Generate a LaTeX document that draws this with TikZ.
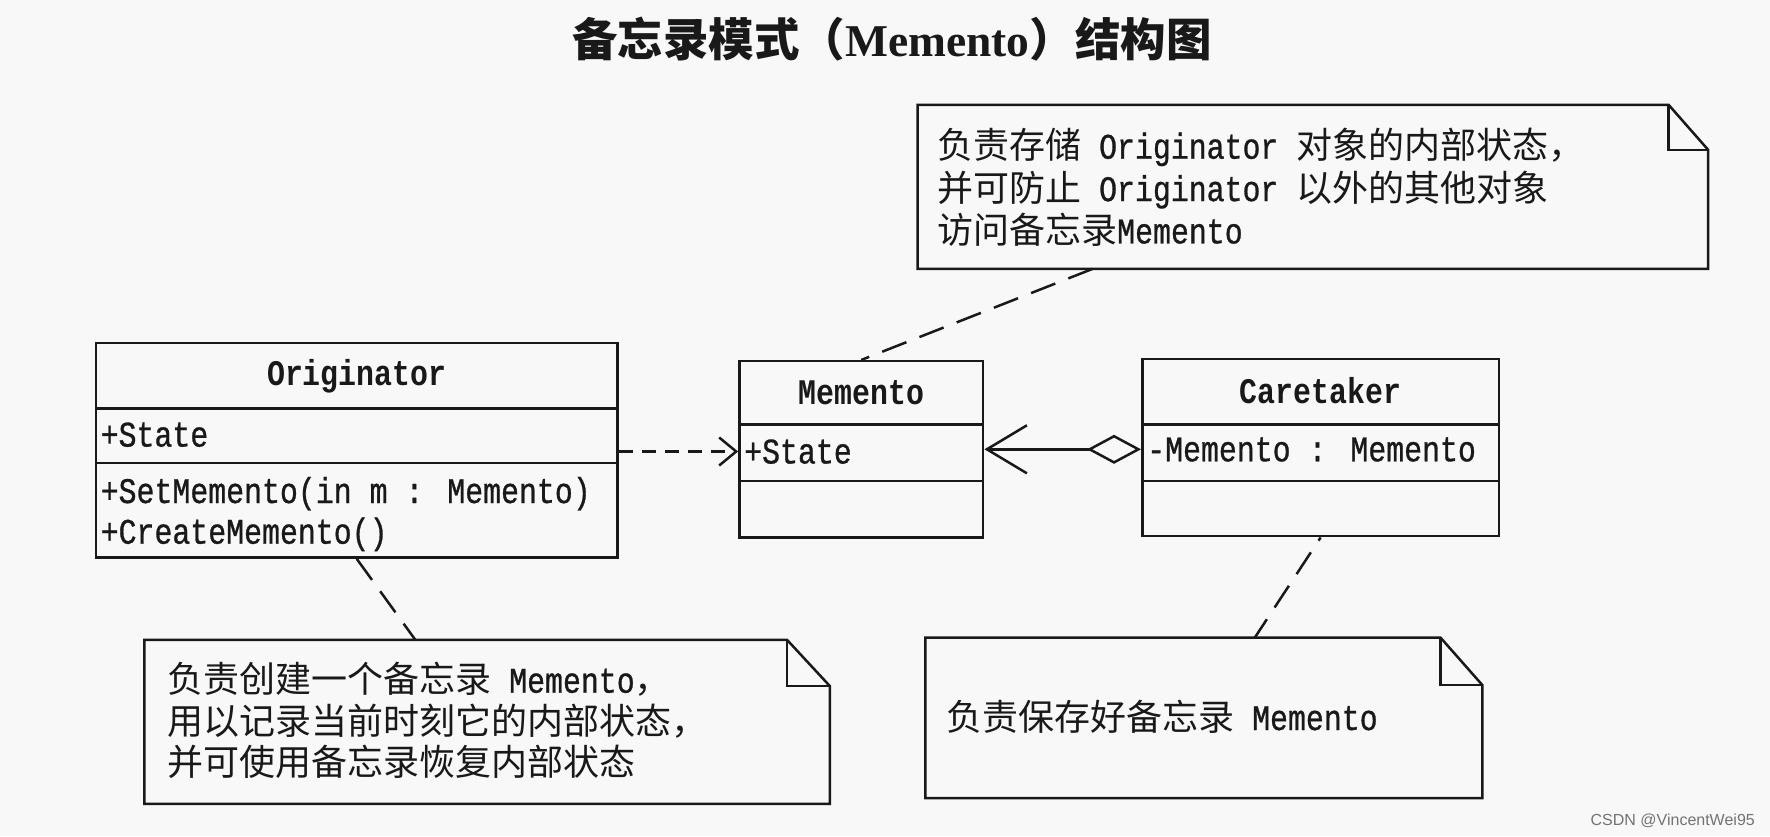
\documentclass[tikz,border=0pt]{standalone}
\usepackage{fontspec}
\setmainfont{Liberation Mono}[FakeStretch=0.83, UprightFeatures={FakeBold=0.8}]
\newfontfamily\cjk{Noto Sans CJK SC}
\newfontfamily\serifttl{Liberation Serif}
\newfontfamily\wmfont{Liberation Sans}
\usetikzlibrary{arrows.meta,calc}
\newcommand\zh[1]{{\cjk #1}}
\definecolor{bgcol}{RGB}{248,248,248}
\definecolor{ink}{RGB}{25,25,25}
\tikzset{
  line/.style={line width=2.5pt, draw=ink},
  cls/.style={draw=ink, line width=2.5pt, rectangle, inner sep=0pt},
  clsname/.style={font=\fontsize{36}{42}\selectfont\bfseries, inner sep=0pt, anchor=center, text=ink},
  member/.style={font=\fontsize{36}{42}\selectfont, anchor=west, inner sep=0pt, text height=30pt, text depth=6pt, text=ink},
  notebody/.style={rectangle, inner sep=0pt, draw=none},
  notelink/.style={line width=2.5pt, draw=ink, dash pattern=on 26pt off 14pt},
  dep/.style={line width=2.5pt, draw=ink, dash pattern=on 14pt off 9pt, -{Straight Barb[length=17pt,width=28pt,line width=2.5pt]}},
}
\begin{document}
\begin{tikzpicture}[x=1pt,y=-1pt]
\path[use as bounding box, fill=bgcol] (0,0) rectangle (1770,836);

% title
\node[inner sep=0pt, text=ink] (title) at (891.8,39.5)
  {\fontsize{45.5}{52}\selectfont\zh{\bfseries 备忘录模式（}{\serifttl\bfseries Memento}\zh{\bfseries ）结构图}};

% classes
\node[cls, minimum width=521.5pt, minimum height=214.4pt] (orig) at (356.75,450.4) {};
\draw[line] (orig.west |- 0,408.6) -- (orig.east |- 0,408.6);
\draw[line] (orig.west |- 0,462.8) -- (orig.east |- 0,462.8);
\node[clsname] (origname) at (356.75,376) {Originator};
\node[member] (ostate) at (100.5,434.6) {+State};
\node[member] (oset) at (100.5,491) {+SetMemento(in m : Memento)};
\node[member] (ocreate) at (100.5,531.7) {+CreateMemento()};

\node[cls, minimum width=243.8pt, minimum height=176.1pt] (mem) at (861.3,449.25) {};
\draw[line] (mem.west |- 0,424.4) -- (mem.east |- 0,424.4);
\draw[line] (mem.west |- 0,480.9) -- (mem.east |- 0,480.9);
\node[clsname] (memname) at (861.3,392.8) {Memento};
\node[member] (mstate) at (744,451.5) {+State};

\node[cls, minimum width=356.7pt, minimum height=177.2pt] (care) at (1320.65,447.6) {};
\draw[line] (care.west |- 0,424.4) -- (care.east |- 0,424.4);
\draw[line] (care.west |- 0,480.9) -- (care.east |- 0,480.9);
\node[clsname] (carename) at (1320.65,390.6) {Caretaker};
\node[member] (cstate) at (1147,449.3) {-Memento : Memento};

% notes
\node[notebody, minimum width=790.2pt, minimum height=163.7pt] (n1) at (1312.8,186.85) {};
\draw[line] (n1.north west) -- ($(n1.north east)+(-39.5,0)$) -- ($(n1.north east)+(0,45)$) -- (n1.south east) -- (n1.south west) -- cycle;
\draw[line] ($(n1.north east)+(-39.5,0)$) -- ($(n1.north east)+(-39.5,45)$) -- ($(n1.north east)+(0,45)$);
\node[member] (n1a) at (937,146.7) {\zh{负责存储} Originator \zh{对象的内部状态，}};
\node[member] (n1b) at (937,189.1) {\zh{并可防止} Originator \zh{以外的其他对象}};
\node[member] (n1c) at (937,231.4) {\zh{访问备忘录}Memento};

\node[notebody, minimum width=685.2pt, minimum height=163.7pt] (n2) at (487.1,721.85) {};
\draw[line] (n2.north west) -- ($(n2.north east)+(-42.9,0)$) -- ($(n2.north east)+(0,46.3)$) -- (n2.south east) -- (n2.south west) -- cycle;
\draw[line] ($(n2.north east)+(-42.9,0)$) -- ($(n2.north east)+(-42.9,46.3)$) -- ($(n2.north east)+(0,46.3)$);
\node[member] (n2a) at (167.1,680.7) {\zh{负责创建一个备忘录} Memento\zh{，}};
\node[member] (n2b) at (167.1,722.4) {\zh{用以记录当前时刻它的内部状态，}};
\node[member] (n2c) at (167.1,763.1) {\zh{并可使用备忘录恢复内部状态}};

\node[notebody, minimum width=556.5pt, minimum height=160.2pt] (n3) at (1203.85,717.9) {};
\draw[line] (n3.north west) -- ($(n3.north east)+(-41.8,0)$) -- ($(n3.north east)+(0,47.4)$) -- (n3.south east) -- (n3.south west) -- cycle;
\draw[line] ($(n3.north east)+(-41.8,0)$) -- ($(n3.north east)+(-41.8,47.4)$) -- ($(n3.north east)+(0,47.4)$);
\node[member] (n3a) at (946,718) {\zh{负责保存好备忘录} Memento};

% connectors
\draw[dep] (orig.east |- mstate) -- (mem.west |- mstate);
\draw[line, {Diamond[open,length=54pt,width=29pt,line width=2.5pt]}-{Straight Barb[length=40pt,width=48pt,line width=2.5pt]}] (care.west |- cstate) -- (mem.east |- cstate);
\draw[notelink] ($(n1.south west)+(175,0)$) -- (mem.north);
\draw[notelink] (orig.south) -- ($(n2.north west)+(271,0)$);
\draw[notelink, dash phase=4pt] ($(n3.north west)+(329.4,0)$) -- (care.south);

% watermark
\node[anchor=east, inner sep=0pt, text=black!55, font=\wmfont\fontsize{16}{18}\selectfont] (wm) at (1755,820.7) {CSDN @VincentWei95};
\end{tikzpicture}
\end{document}
